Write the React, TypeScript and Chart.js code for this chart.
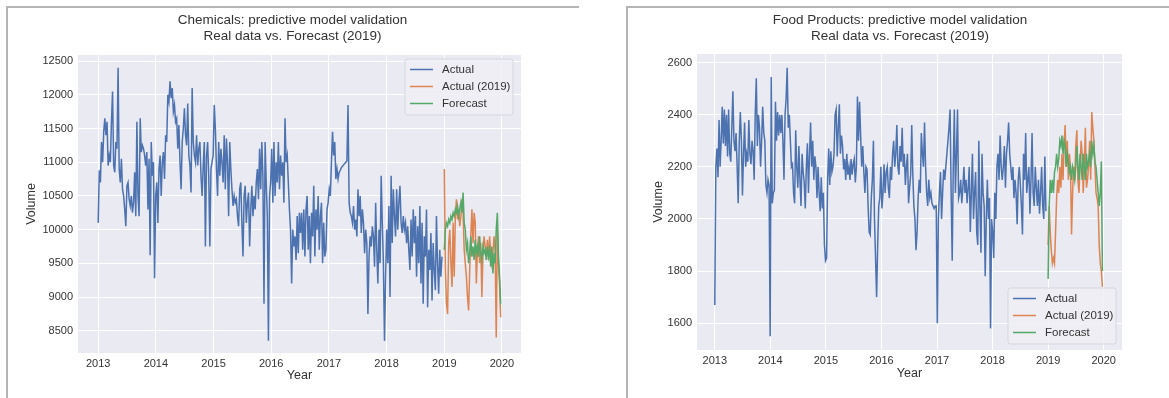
import React, { useEffect, useRef } from 'react';
import { Chart, registerables } from 'chart.js';

Chart.register(...registerables);

// ---------- data ----------
const START_YEAR = 2013;
const FORECAST_YEAR = 2019;
const WEEKS_PER_YEAR = 52.18;

const seriesLabels = ['Actual', 'Actual (2019)', 'Forecast'];
const xTicks = [2013, 2014, 2015, 2016, 2017, 2018, 2019, 2020];
const chemYTicks = [8500, 9000, 9500, 10000, 10500, 11000, 11500, 12000, 12500];
const foodYTicks = [1600, 1800, 2000, 2200, 2400, 2600];
const chemTitle = ['Chemicals: predictive model validation', 'Real data vs. Forecast (2019)'];
const foodTitle = ['Food Products: predictive model validation', 'Real data vs. Forecast (2019)'];

// Chemicals weekly volume 2013-2018
const chemActual = [
  10100, 10880, 10700, 11300, 11000, 11450, 11650, 11400, 11600, 10950, 11100, 11000, 11600,
  12050, 10950, 10850, 11300, 11200, 12400, 10900, 10700, 11050, 10600, 10500, 10300, 10050,
  10650, 10700, 10450, 10350, 10500, 10250, 10400, 10850, 10200, 11600, 10500, 10200, 11650,
  11150, 11250, 11200, 11100, 10950, 11150, 10300, 11050, 9620, 11300, 10800, 11000, 9280,
  10500, 10700, 10100, 10900, 11100, 10500, 11000, 11150, 10750, 11400, 11300, 12000, 11900,
  12200, 11950, 12100, 11750, 11850, 11600, 11650, 11200, 11550, 11000, 10600, 11300, 11500,
  11800, 11400, 11250, 11870, 11100, 10950, 10550, 12100, 11300, 11100, 11000, 11400, 10950,
  11200, 11300, 10800, 10500, 10950, 11300, 9750, 11100, 11300, 10800, 9750, 10900, 11000,
  11100, 11850, 11500, 10900, 10500, 11300, 10800, 11200, 11000, 10700, 11400, 10600, 11350,
  11000, 10200, 11300, 10900, 10600, 10350, 10500, 10400, 10450, 10200, 10050, 10600, 10700,
  10100, 9600, 10500, 10650, 10100, 10400, 10550, 9750, 10300, 10650, 10200, 10500, 10300,
  10700, 10900, 10450, 11200, 10600, 11300, 10800, 8900, 11300, 10700, 10200, 8350, 10500,
  10700, 11200, 10400, 11300, 10500, 11000, 10700, 11300, 10600, 11100, 10800, 11000, 10400,
  11650, 11000, 11100, 10700, 10300, 10000, 9200, 10000, 9750, 9900, 9550, 10200, 9650,
  10250, 9950, 10250, 9700, 10300, 9600, 10300, 10500, 9700, 10200, 9500, 10250, 9900,
  10650, 9600, 10300, 10000, 10500, 9700, 10200, 10400, 9500, 10100, 9600, 9700, 10300,
  10400, 10600, 10500, 11000, 11450, 11100, 11300, 10750, 10900, 10750, 10850, 10880, 10920,
  10940, 10960, 10980, 11000, 11020, 11850, 10400, 10250, 10200, 10100, 10350, 10000, 10150,
  9900, 10600, 10200, 10500, 9950, 10300, 10100, 9650, 10000, 9800, 8750, 9600, 9900,
  9750, 10050, 9900, 9450, 10400, 9700, 9200, 10000, 9500, 10800, 10100, 9500, 8350,
  9300, 10000, 9500, 10350, 9000, 10800, 9800, 10600, 10200, 9900, 10600, 10000, 10400,
  10650, 10100, 9950, 10200, 10000, 10100, 9800, 10050, 9700, 9400, 10150, 9600, 10300,
  9800, 10200, 9300, 10050, 9500, 10350, 9200, 10100, 8900, 9900, 9600, 10300, 8850,
  9700, 9400, 9950, 8950, 9800, 9400, 9100, 10200, 9500, 9050, 9700, 9300, 9600,
];
const chemActual2019 = [
  10900, 9400, 8900, 8750, 9800, 10000, 9500, 9150, 10100, 9300, 10200, 10450, 10150,
  10300, 10050, 10200, 10450, 10250, 9700, 9500, 9300, 9000, 8800, 9400, 9900, 10300,
  9800, 10250, 10100, 9200, 9700, 9900, 9500, 9800, 9000, 9650, 9900, 9750, 9600,
  9850, 9550, 9900, 9650, 9500, 9650, 9900, 9700, 8400, 10000, 9500, 9200, 8700,
];
const chemForecast = [
  9700, 10000, 10100, 10050, 10150, 10100, 10200, 10150, 10250, 10200, 10300, 10250, 10350,
  10200, 10300, 10400, 10250, 10550, 10100, 10000, 9700, 9800, 9500, 9650, 9900, 9600,
  9750, 9550, 9850, 9650, 9750, 9600, 9900, 9650, 9550, 9750, 9650, 9700, 9550,
  9750, 9600, 9700, 9450, 9750, 9350, 9650, 9500, 10000, 10250, 9600, 9300, 8900,
];

// Food Products weekly volume 2013-2018
const foodActual = [
  1670, 2200, 2270, 2160, 2380, 2200, 2300, 2430, 2290, 2420, 2280, 2400, 2240,
  2420, 2250, 2220, 2350, 2490, 2300, 2260, 2330, 2200, 2060, 2300, 2410, 2300,
  2090, 2250, 2370, 2200, 2250, 2220, 2380, 2250, 2210, 2300, 2260, 2150, 2400,
  2540, 2280, 2400, 2350, 2200, 2300, 2430, 2330, 2300, 2130, 2100, 2150, 2130,
  1550, 2545, 2060, 2100, 2110, 2450, 2300, 2410, 2320, 2400, 2330, 2400, 2300,
  2150, 2400, 2460, 2580, 2350, 2400, 2300, 2200, 2210, 2100, 2060, 2340, 2200,
  2120, 2280, 2150, 2050, 2250, 2180, 2140, 2040, 2200, 2290, 2100, 2250, 2370,
  2200, 2300, 2150, 2240, 2200, 2080, 2200, 2100, 2030, 2160, 2040, 2100, 1900,
  1840, 1850, 2150, 2270, 2130, 2260, 2180, 2200, 2250, 2400, 2420, 2240, 2350,
  2440, 2250, 2320, 2280, 2190, 2230, 2150, 2250, 2170, 2200, 2150, 2230, 2170,
  2210, 2230, 2140, 2200, 2470, 2300, 2450, 2320, 2200, 2280, 2180, 2100, 2200,
  2190, 2050, 1950, 1940, 2080, 2150, 2300, 2000, 1850, 1700, 1900, 2050, 2080,
  2200, 2040, 2100, 2210, 2100, 2180, 2200, 2120, 2080, 2200, 2150, 2250, 2300,
  2200, 2250, 2360, 2200, 2170, 2280, 2220, 2350, 2200, 2250, 2130, 2200, 2250,
  2060, 2120, 2170, 2360, 2170, 2050, 2000, 1880, 1950, 2080, 2150, 2100, 2330,
  2250, 2200, 2370, 2200, 2100, 2050, 2150, 2080, 2100, 2060, 2050, 2040, 2050,
  2050, 1600, 2000, 2100, 2180, 2000, 2100, 2190, 2150, 2200, 2250, 2300, 2350,
  2420, 2100, 1840, 2200, 2420, 2100, 2250, 2420, 2080, 2100, 2150, 2060, 2120,
  2200, 2100, 2150, 2060, 2120, 2200, 1950, 2100, 2250, 2000, 2100, 2180, 1950,
  1900, 2300, 2050, 1870, 2250, 2100, 2050, 1780, 2000, 2150, 2000, 2080, 1580,
  2000, 1950, 1850, 2100, 2000, 2200, 2250, 2150, 2320, 2200, 2150, 2200, 2280,
  2120, 2250, 2300, 2370, 2250, 2200, 2150, 2200, 2080, 2150, 2100, 1980, 2150,
  2200, 2130, 2050, 1940, 2250, 2150, 2330, 2100, 2150, 2200, 2020, 2150, 2330,
  2100, 2050, 2200, 2120, 2050, 2150, 2020, 2100, 2200, 2050, 2000, 2240, 2030,
];
const foodActual2019 = [
  1900, 2050, 1950, 1880, 1830, 1850, 1830, 1950, 2080, 2150, 2100, 2200, 2120,
  2250, 2150, 2280, 2360, 2200, 2300, 2150, 2250, 2200, 1940, 2100, 2200, 2150,
  2280, 2340, 2150, 2100, 2200, 2300, 2250, 2100, 2200, 2350, 2120, 2150, 2200,
  2300, 2150, 2410, 2350, 2300, 2200, 2100, 2080, 2050, 1900, 1830, 1800, 1740,
];
const foodForecast = [
  1770, 2050, 2150, 2100, 2150, 2100, 2180, 2200, 2250, 2200, 2230, 2300, 2280,
  2320, 2250, 2300, 2280, 2200, 2250, 2220, 2180, 2200, 2150, 2200, 2180, 2150,
  2200, 2280, 2200, 2150, 2250, 2200, 2150, 2250, 2200, 2150, 2250, 2200, 2220,
  2250, 2200, 2300, 2250, 2280, 2220, 2200, 2150, 2100, 2050, 2100, 2220, 1800,
];

// ---------- styling ----------
const FONT = "'Liberation Sans', Arial, sans-serif";
const TEXT = '#333333';
const BLUE = '#4C72B0';
const ORANGE = '#DD8452';
const GREEN = '#55A868';
const PLOT_BG = '#EAEAF2';

const toPts = (vals: number[], start: number) =>
  vals.map((v, i) => ({ x: start + i / WEEKS_PER_YEAR, y: v }));

const bgPlugin = {
  id: 'plotBg',
  beforeDraw(chart: any) {
    const { ctx, chartArea } = chart;
    ctx.save();
    ctx.fillStyle = PLOT_BG;
    ctx.fillRect(chartArea.left, chartArea.top, chartArea.right - chartArea.left, chartArea.bottom - chartArea.top);
    ctx.restore();
  },
};

const makeTitlePlugin = (lines: string[], centerX: number) => ({
  id: 'panelTitle',
  afterDraw(chart: any) {
    const { ctx } = chart;
    ctx.save();
    ctx.fillStyle = TEXT;
    ctx.font = `13.5px ${FONT}`;
    ctx.textAlign = 'center';
    ctx.textBaseline = 'middle';
    lines.forEach((t, i) => ctx.fillText(t, centerX, 20 + i * 16.5));
    ctx.restore();
  },
});

const makeLegendPlugin = (pos: 'top' | 'bottom', gap: number) => ({
  id: 'boxLegend',
  afterDraw(chart: any) {
    const { ctx, chartArea } = chart;
    const w = 108;
    const h = 56;
    const x = chartArea.right - gap - w;
    const y = pos === 'top' ? chartArea.top + 4 : chartArea.bottom - 6 - h;
    ctx.save();
    ctx.beginPath();
    const r = 2.5;
    ctx.moveTo(x + r, y);
    ctx.lineTo(x + w - r, y);
    ctx.quadraticCurveTo(x + w, y, x + w, y + r);
    ctx.lineTo(x + w, y + h - r);
    ctx.quadraticCurveTo(x + w, y + h, x + w - r, y + h);
    ctx.lineTo(x + r, y + h);
    ctx.quadraticCurveTo(x, y + h, x, y + h - r);
    ctx.lineTo(x, y + r);
    ctx.quadraticCurveTo(x, y, x + r, y);
    ctx.closePath();
    ctx.fillStyle = 'rgba(238,238,244,0.85)';
    ctx.fill();
    ctx.strokeStyle = '#d6d6de';
    ctx.lineWidth = 1;
    ctx.stroke();
    const colors = [BLUE, ORANGE, GREEN];
    ctx.font = `11.5px ${FONT}`;
    ctx.textBaseline = 'middle';
    ctx.textAlign = 'left';
    seriesLabels.forEach((label, i) => {
      const ly = y + 10.5 + i * 17;
      ctx.strokeStyle = colors[i];
      ctx.lineWidth = 1.5;
      ctx.beginPath();
      ctx.moveTo(x + 5, ly);
      ctx.lineTo(x + 28, ly);
      ctx.stroke();
      ctx.fillStyle = TEXT;
      ctx.fillText(label, x + 37, ly);
    });
    ctx.restore();
  },
});

type PanelProps = {
  left: number;
  width: number;
  height: number;
  title: string[];
  titleX: number;
  actual: number[];
  actual2019: number[];
  forecast: number[];
  yTicks: number[];
  xMin: number;
  xMax: number;
  yMin: number;
  yMax: number;
  plotLeft: number;
  plotRight: number;
  plotTop: number;
  plotBottom: number;
  yTitleX: number;
  xTitleY: number;
  legendPos: 'top' | 'bottom';
  legendGap: number;
};

function ChartPanel(p: PanelProps) {
  const ref = useRef<HTMLCanvasElement | null>(null);
  useEffect(() => {
    if (!ref.current) return;
    const tickFont = { family: FONT, size: 11 };
    const axisTitleFont = { family: FONT, size: 12.5, lineHeight: 1.2 };
    const chart = new Chart(ref.current, {
      type: 'line',
      data: {
        datasets: [
          { label: seriesLabels[0], data: toPts(p.actual, START_YEAR), borderColor: BLUE, borderWidth: 1.5, pointRadius: 0, tension: 0, order: 3 },
          { label: seriesLabels[1], data: toPts(p.actual2019, FORECAST_YEAR), borderColor: ORANGE, borderWidth: 1.5, pointRadius: 0, tension: 0, order: 2 },
          { label: seriesLabels[2], data: toPts(p.forecast, FORECAST_YEAR), borderColor: GREEN, borderWidth: 1.5, pointRadius: 0, tension: 0, order: 1 },
        ],
      },
      options: {
        animation: false,
        responsive: false,
        maintainAspectRatio: false,
        devicePixelRatio: 1,
        events: [],
        layout: { padding: { left: 0, top: p.plotTop, right: p.width - p.plotRight, bottom: 0 } },
        plugins: {
          legend: { display: false },
          tooltip: { enabled: false },
          title: { display: false },
        },
        scales: {
          x: {
            type: 'linear',
            min: p.xMin,
            max: p.xMax,
            afterBuildTicks: (ax: any) => {
              ax.ticks = xTicks.map((v) => ({ value: v }));
            },
            afterFit: (s: any) => {
              s.height = p.height - p.plotBottom;
            },
            grid: { color: '#ffffff', lineWidth: 1, drawTicks: false },
            border: { display: false },
            ticks: { padding: 4, color: TEXT, font: tickFont, maxRotation: 0, callback: (v: any) => String(v) },
            title: { display: true, text: 'Year', color: TEXT, font: axisTitleFont, padding: { top: 0, bottom: p.height - p.xTitleY - 7.5 } },
          },
          y: {
            type: 'linear',
            min: p.yMin,
            max: p.yMax,
            afterBuildTicks: (ax: any) => {
              ax.ticks = p.yTicks.map((v) => ({ value: v }));
            },
            afterFit: (s: any) => {
              s.width = p.plotLeft;
            },
            grid: { color: '#ffffff', lineWidth: 1, drawTicks: false },
            border: { display: false },
            ticks: { padding: 5, color: TEXT, font: tickFont, callback: (v: any) => String(v) },
            title: { display: true, text: 'Volume', color: TEXT, font: axisTitleFont, padding: { top: p.yTitleX - 7.5, bottom: 0 } },
          },
        },
      } as any,
      plugins: [bgPlugin, makeLegendPlugin(p.legendPos, p.legendGap), makeTitlePlugin(p.title, p.titleX)],
    });
    return () => chart.destroy();
  }, []);
  return (
    <canvas
      ref={ref}
      width={p.width}
      height={p.height}
      style={{ position: 'absolute', left: p.left, top: 0, width: p.width, height: p.height }}
    />
  );
}

export default function App() {
  return (
    <div style={{ position: 'absolute', left: 0, top: 0, width: 1169, height: 398, background: '#ffffff', overflow: 'hidden' }}>
      <ChartPanel
        left={0}
        width={585}
        height={398}
        title={chemTitle}
        titleX={292.5}
        actual={chemActual}
        actual2019={chemActual2019}
        forecast={chemForecast}
        yTicks={chemYTicks}
        xMin={2012.65}
        xMax={2020.33}
        yMin={8170}
        yMax={12590}
        plotLeft={78}
        plotRight={521}
        plotTop={55}
        plotBottom={353}
        yTitleX={32}
        xTitleY={376}
        legendPos="top"
        legendGap={8}
      />
      <ChartPanel
        left={629}
        width={540}
        height={398}
        title={foodTitle}
        titleX={271}
        actual={foodActual}
        actual2019={foodActual2019}
        forecast={foodForecast}
        yTicks={foodYTicks}
        xMin={2012.68}
        xMax={2020.33}
        yMin={1497}
        yMax={2633}
        plotLeft={68}
        plotRight={493}
        plotTop={54}
        plotBottom={350}
        yTitleX={30}
        xTitleY={374}
        legendPos="bottom"
        legendGap={6}
      />
      <div style={{ position: 'absolute', left: 6, top: 6, width: 573, height: 392, borderTop: '2px solid #b4b4b4', borderLeft: '2px solid #b4b4b4', boxSizing: 'border-box' }} />
      <div style={{ position: 'absolute', left: 626, top: 6, width: 543, height: 392, borderTop: '2px solid #b4b4b4', borderLeft: '2px solid #b4b4b4', boxSizing: 'border-box' }} />
    </div>
  );
}
